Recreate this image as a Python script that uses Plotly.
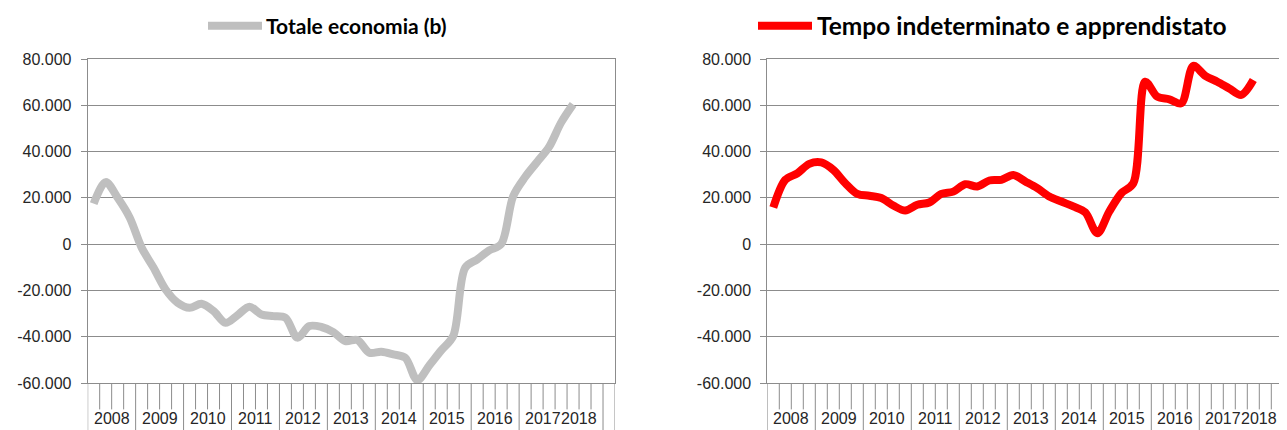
import plotly.graph_objects as go

# quarterly net changes, 2008Q1 .. 2018Q1
totale_economia = [17500, 26800, 20000, 11500, -1500, -10200, -19600, -25300, -27500, -25800,
                   -28900, -34000, -30700, -27000, -30400, -31100, -31800, -40400, -35400, -35800,
                   -38000, -41900, -41400, -46900, -46500, -47600, -49100, -58800, -52400, -45900,
                   -39700, -10200, -6600, -2700, 0, 20700, 29000, 35500, 42000, 52500, 60400]
tempo_indeterminato = [15800, 27800, 30600, 34700, 35300, 32100, 26300, 21700, 20900, 19900,
                       16700, 14500, 17000, 18000, 21700, 22700, 25900, 24900, 27500, 27800,
                       29900, 27100, 24200, 20600, 18400, 16300, 13700, 4700, 14100, 22000,
                       26300, 70200, 63700, 62600, 60900, 77000, 72700, 70200, 67300, 64500, 70900]

year_labels = ["2008", "2009", "2010", "2011", "2012", "2013", "2014", "2015", "2016", "2017", "2018"]
quarters_in_year = [4, 4, 4, 4, 4, 4, 4, 4, 4, 4, 2]
n_slots = 44

y_ticks = [-60000, -40000, -20000, 0, 20000, 40000, 60000, 80000]

# the page body adds an 8px offset, so work in screen pixels and subtract it
OFF = 8
W, H = 1287 - OFF, 430 - OFF
PLOT_TOP, PLOT_BOTTOM = 59.3 - OFF, 383.3 - OFF
PLOT_H = PLOT_BOTTOM - PLOT_TOP
GRID = "#8c8c8c"
TXT = "#262626"


def it_number(v):
    return f"{v:,}".replace(",", ".")


def py(screen_y):
    return (PLOT_BOTTOM - (screen_y - OFF)) / PLOT_H


def px(screen_x):
    return (screen_x - OFF) / W


fig = go.Figure()

panels = [
    dict(name="Totale economia (b)", values=totale_economia, color="#bfbfbf", x="x", y="y",
         domain=[px(87.7), px(615)], xrange=[-0.5, n_slots - 0.5], mirror=True,
         leg_line=(208, 262), leg_text=264, leg_size=21),
    dict(name="Tempo indeterminato e apprendistato", values=tempo_indeterminato, color="#ff0000",
         x="x2", y="y2", domain=[px(767.3), 1.0], xrange=[-0.5, -0.5 + (1287 - 767.3) / 12.0], mirror=False,
         leg_line=(758, 812), leg_text=815, leg_size=24.5),
]

shapes, annotations = [], []
for i, p in enumerate(panels):
    fig.add_trace(go.Scatter(x=list(range(len(p["values"]))), y=p["values"], mode="lines",
                             name=p["name"], xaxis=p["x"], yaxis=p["y"], showlegend=False,
                             line=dict(color=p["color"], width=8, shape="spline", smoothing=0.9)))

    sfx = "" if i == 0 else "2"
    fig.update_layout(**{
        "xaxis" + sfx: dict(domain=p["domain"], range=p["xrange"], anchor="y" + sfx,
                            showgrid=False, zeroline=False, showticklabels=False, ticks="",
                            showline=True, linecolor=GRID, linewidth=1, mirror=True),
        "yaxis" + sfx: dict(domain=[0, 1], range=[-60000, 80000], anchor="x" + sfx,
                            tickvals=y_ticks, ticktext=[it_number(v) for v in y_ticks],
                            showgrid=True, gridcolor=GRID, gridwidth=1, zeroline=False,
                            showline=True, linecolor=GRID, linewidth=1, mirror=p["mirror"],
                            ticks="outside", ticklen=6, tickcolor=GRID, ticklabelstandoff=6,
                            tickfont=dict(family="Liberation Sans", size=16, color=TXT)),
    })

    # category axis: tick lines between quarters, longer ones between years
    starts, s = [], 0
    for n in quarters_in_year:
        starts.append(s)
        s += n
    long_ticks = [st for st, n in zip(starts, quarters_in_year) if n == 4] + [n_slots - 1, n_slots]
    for b in range(n_slots + 1):
        bottom = 431 if b in long_ticks else 409.7
        shapes.append(dict(type="line", xref=p["x"], yref="paper", x0=b - 0.5, x1=b - 0.5,
                           y0=0, y1=py(bottom), line=dict(color=GRID, width=1)))
    for lab, st, n in zip(year_labels, starts, quarters_in_year):
        annotations.append(dict(text=lab, xref=p["x"], yref="paper", x=st + n / 2 - 0.5,
                                y=py(419), xanchor="center", yanchor="middle",
                                showarrow=False, font=dict(family="Liberation Sans", size=16, color=TXT)))

    # legend entry above each panel
    x0, x1 = p["leg_line"]
    shapes.append(dict(type="line", xref="paper", yref="paper", x0=px(x0), x1=px(x1),
                       y0=py(26), y1=py(26), line=dict(color=p["color"], width=8)))
    annotations.append(dict(text="<b>" + p["name"] + "</b>", xref="paper", yref="paper",
                            x=px(p["leg_text"]), y=py(26), xanchor="left", yanchor="middle",
                            showarrow=False, font=dict(family="Lato", size=p["leg_size"], color="#000000")))

fig.update_layout(width=W, height=H, margin=dict(l=0, r=0, t=PLOT_TOP, b=H - PLOT_BOTTOM),
                  paper_bgcolor="white", plot_bgcolor="white", shapes=shapes, annotations=annotations)

fig.write_html("out.html")
